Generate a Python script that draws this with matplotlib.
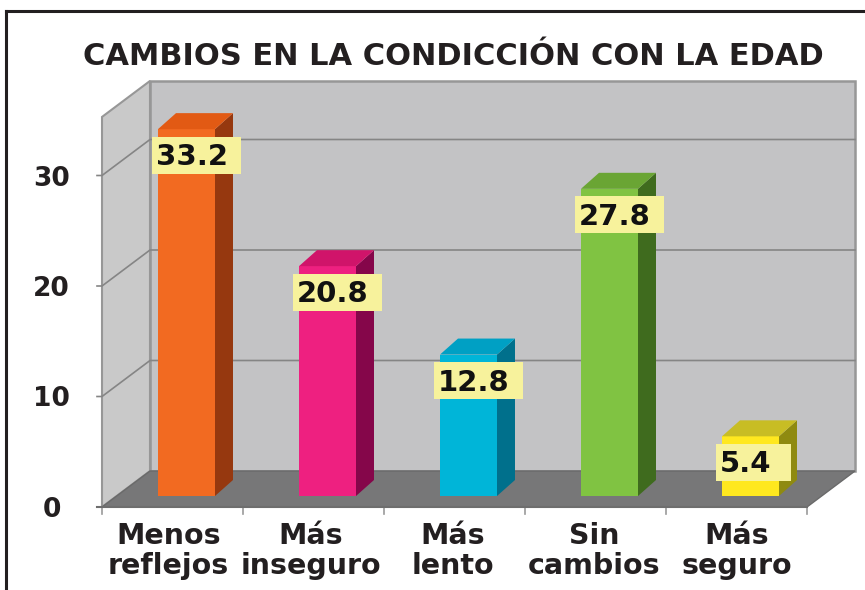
import matplotlib
matplotlib.use('Agg')
import matplotlib.pyplot as plt
from matplotlib.patches import Polygon, Rectangle

plt.rcParams['font.family'] = ['DejaVu Sans']

categories = ['Menos\nreflejos', 'Más\ninseguro', 'Más\nlento', 'Sin\ncambios', 'Más\nseguro']
values = [33.2, 20.8, 12.8, 27.8, 5.4]
value_labels = ['33.2', '20.8', '12.8', '27.8', '5.4']
y_ticks = [0, 10, 20, 30]
front_colors = ['#f26a21', '#ee2080', '#00b5d8', '#80c342', '#ffe81f']
top_colors = ['#e25a14', '#d0146a', '#00a0c4', '#6aa534', '#c8bd24']
side_colors = ['#96380f', '#85064a', '#00708c', '#3f6b1e', '#8f8a10']
box_widths = [89, 89, 89, 89, 75]

W, H = 865, 590
PX_X = 141.0     # pixels per category
PX_Y = 11.05     # pixels per unit
X0_PX = 172.5    # pixel of category 0 on the front edge
Y0_PX = 507.0    # pixel of value 0 on the front edge

fig = plt.figure(figsize=(W / 100, H / 100), dpi=100, facecolor='white')
ax = fig.add_axes([0, 0, 1, 1])
ax.set_xlim(-X0_PX / PX_X, (W - X0_PX) / PX_X)
ax.set_ylim(-(H - Y0_PX) / PX_Y, Y0_PX / PX_Y)
ax.axis('off')

# depth of the box and of the bars, in data units
wall_dx, wall_dy = 48 / PX_X, 36 / PX_Y
bar_off_x, bar_off_y = 14 / PX_X, 11 / PX_Y
bar_dx, bar_dy = 18 / PX_X, 16 / PX_Y
bar_w = 57 / PX_X
top = 35.3
xl, xr = -0.5, 4.5
left, right = ax.get_xlim()
bottom, ceil = ax.get_ylim()

# frame around the figure, only left and top are visible
ax.plot([left + 6 / PX_X] * 2, [bottom, ceil - 11 / PX_Y], color='#231f20', lw=2.2, zorder=1)
ax.plot([left + 6 / PX_X, right], [ceil - 11 / PX_Y] * 2, color='#231f20', lw=2.2, zorder=1)

# walls and floor
ax.add_patch(Rectangle((xl + wall_dx, wall_dy), xr - xl, top, fc='#c3c3c5', ec='#979797', lw=1.8, zorder=2))
ax.add_patch(Polygon([(xl, 0), (xl + wall_dx, wall_dy), (xl + wall_dx, wall_dy + top), (xl, top)],
                     fc='#c9c9c9', ec='#979797', lw=1.5, zorder=2))
ax.add_patch(Polygon([(xl, 0), (xr, 0), (xr + wall_dx, wall_dy), (xl + wall_dx, wall_dy)],
                     fc='#777778', ec='#6a6a6a', lw=1, zorder=3))

# grid lines on both walls
for t in y_ticks[1:]:
    ax.plot([xl - 5 / PX_X, xl, xl + wall_dx, xr + wall_dx], [t, t, t + wall_dy, t + wall_dy],
            color='#858585', lw=1.2, zorder=3)

# axis ticks under the floor
for i in range(len(categories) + 1):
    ax.plot([xl + i, xl + i], [0, -7 / PX_Y], color='#9a9a9a', lw=1.2, zorder=3)
ax.plot([xl - 5 / PX_X, xr], [0, 0], color='#6e6e6e', lw=1.5, zorder=4)

# bars
for i, v in enumerate(values):
    x0 = i + bar_off_x - bar_w / 2
    x1 = x0 + bar_w
    b = bar_off_y
    ax.bar(i + bar_off_x, v, width=bar_w, bottom=b, color=front_colors[i], zorder=5)
    ax.add_patch(Polygon([(x1, b), (x1 + bar_dx, b + bar_dy), (x1 + bar_dx, b + v + bar_dy), (x1, b + v)],
                         fc=side_colors[i], ec='none', zorder=5))
    ax.add_patch(Polygon([(x0, b + v), (x1, b + v), (x1 + bar_dx, b + v + bar_dy), (x0 + bar_dx, b + v + bar_dy)],
                         fc=top_colors[i], ec='none', zorder=5))
    # yellow value tag
    bx = x0 - 6 / PX_X
    cy = b + v - 26 / PX_Y
    ax.add_patch(Rectangle((bx, cy - 18.5 / PX_Y), box_widths[i] / PX_X, 37 / PX_Y,
                           fc='#f7f29c', ec='none', zorder=6))
    ax.text(bx + 4 / PX_X, cy - 2 / PX_Y, value_labels[i], ha='left', va='center', fontsize=21, fontweight='bold',
            color='#111111', zorder=7)

# y labels
for t in y_ticks:
    ax.text(-121 / PX_X, t - 3 / PX_Y, str(t), ha='center', va='center', fontsize=19, fontweight='bold',
            color='#231f20')

# category labels
for i, c in enumerate(categories):
    ax.text(i * 142 / PX_X - 4 / PX_X, -44 / PX_Y, c, ha='center', va='center', fontsize=20.5, fontweight='bold',
            color='#231f20', linespacing=1.1)

ax.text(left + 453 / PX_X, ceil - 65 / PX_Y, 'CAMBIOS EN LA CONDICCIÓN CON LA EDAD',
        ha='center', va='baseline', fontsize=22, fontweight='bold', color='#231f20')

fig.savefig('out.png', dpi=100)
